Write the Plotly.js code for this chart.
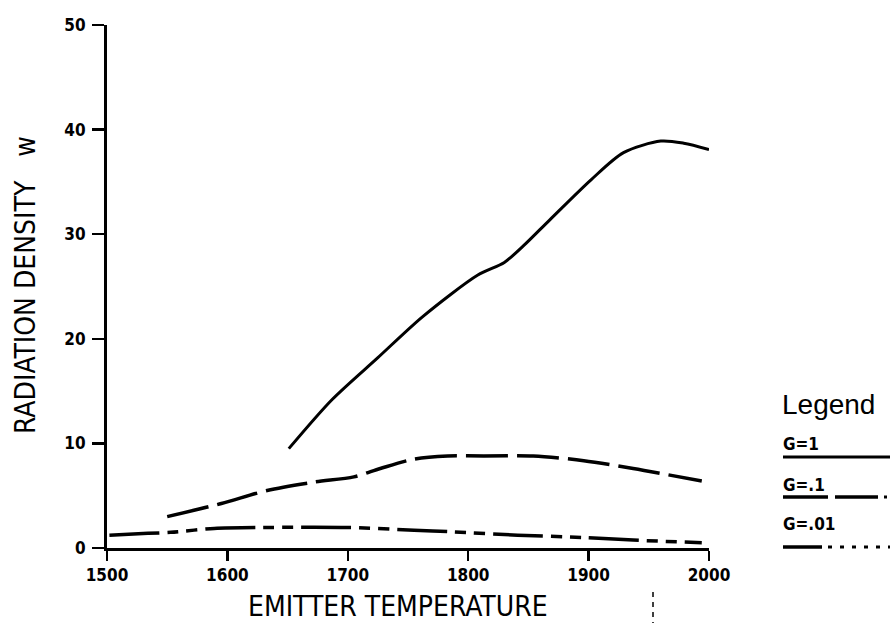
<!DOCTYPE html>
<html>
<head>
<meta charset="utf-8">
<script src="https://cdn.plot.ly/plotly-3.0.1.min.js"></script>
<style>html,body{margin:0;padding:0;background:#fff;}#chart{width:890px;height:625px;}</style>
</head>
<body>
<div id="chart"></div>
<script>
// ---- data ----
const tempG1 = [1651, 1687, 1725, 1762, 1808, 1830, 1846, 1868, 1902, 1929, 1960, 1979, 2000];
const radG1  = [9.5, 14.2, 18.2, 22.1, 26.1, 27.3, 28.9, 31.4, 35.2, 37.8, 38.9, 38.7, 38.1];

const tempG01 = [1550, 1595, 1633, 1672, 1705, 1727, 1755, 1783, 1813, 1854, 1896, 1937, 1994];
const radG01  = [3.0, 4.25, 5.5, 6.3, 6.8, 7.6, 8.5, 8.8, 8.8, 8.8, 8.35, 7.6, 6.4];

const tempG001 = [1502, 1534, 1553, 1589, 1630, 1700, 1755, 1786, 1841, 1896, 1937, 1994];
const radG001  = [1.23, 1.4, 1.5, 1.87, 1.96, 1.96, 1.7, 1.55, 1.23, 1.0, 0.76, 0.5];

const xTickVals = [1500, 1600, 1700, 1800, 1900, 2000];
const yTickVals = [0, 10, 20, 30, 40, 50];
const legendLabels = ["G=1", "G=.1", "G=.01"];
const xTitle = "EMITTER TEMPERATURE";
const yTitle = "RADIATION DENSITY\u00a0\u00a0\u00a0w";

// ---- layout helpers (pixel -> paper) ----
const L = 107, R = 890 - 709, T = 25, B = 625 - 548;
const PW = 890 - L - R, PH = 625 - T - B;
const px = x => (x - L) / PW;
const py = y => (625 - B - y) / PH;

const titleFont = {family: "Liberation Sans Narrow, DejaVu Sans Condensed, Arial Narrow, sans-serif", size: 28, color: "#000"};
const tickFont = {family: "DejaVu Sans Condensed, DejaVu Sans, sans-serif", size: 17, color: "#000", weight: "bold"};
const legFont = {family: "DejaVu Sans Condensed, sans-serif", size: 17, color: "#000", weight: "bold"};

const traces = [
  {x: tempG1, y: radG1, mode: "lines", name: legendLabels[0],
   line: {color: "#000", width: 3, shape: "spline", smoothing: 0.8}},
  {x: tempG01, y: radG01, mode: "lines", name: legendLabels[1],
   line: {color: "#000", width: 3.5, shape: "spline", smoothing: 0.8, dash: "42px,9px"}},
  {x: tempG001, y: radG001, mode: "lines", name: legendLabels[2],
   line: {color: "#000", width: 3.5, shape: "spline", smoothing: 0.8, dash: "50px,8px,11px,8px,11px,8px"}}
];

const shapes = [
  // legend sample lines
  {type: "line", xref: "paper", yref: "paper", x0: px(783), x1: px(890), y0: py(457), y1: py(457), line: {color: "#000", width: 3}},
  {type: "line", xref: "paper", yref: "paper", x0: px(783), x1: px(828), y0: py(497), y1: py(497), line: {color: "#000", width: 3.5}},
  {type: "line", xref: "paper", yref: "paper", x0: px(835), x1: px(878), y0: py(497), y1: py(497), line: {color: "#000", width: 3.5}},
  {type: "line", xref: "paper", yref: "paper", x0: px(884), x1: px(887), y0: py(497), y1: py(497), line: {color: "#000", width: 3}},
  {type: "line", xref: "paper", yref: "paper", x0: px(783), x1: px(822), y0: py(547), y1: py(547), line: {color: "#000", width: 3.5}},
  {type: "line", xref: "paper", yref: "paper", x0: px(828), x1: px(890), y0: py(547), y1: py(547), line: {color: "#000", width: 3, dash: "4px,8px"}},
  // small stray mark below the axis
  {type: "line", xref: "paper", yref: "paper", x0: px(653), x1: px(653), y0: py(592), y1: py(623), line: {color: "#000", width: 1.5, dash: "5px,5px"}}
];

const annotations = [
  {xref: "paper", yref: "paper", x: px(398), y: py(606), text: xTitle, showarrow: false,
   xanchor: "center", yanchor: "middle", font: titleFont},
  {xref: "paper", yref: "paper", x: px(25), y: py(285), text: yTitle, showarrow: false, textangle: -90,
   xanchor: "center", yanchor: "middle", font: titleFont},
  {xref: "paper", yref: "paper", x: px(828), y: py(404), text: "Legend", showarrow: false,
   xanchor: "center", yanchor: "middle", font: {family: "Liberation Sans, Arial, sans-serif", size: 28, color: "#000"}},
  {xref: "paper", yref: "paper", x: px(781), y: py(444), text: legendLabels[0], showarrow: false,
   xanchor: "left", yanchor: "middle", font: legFont},
  {xref: "paper", yref: "paper", x: px(781), y: py(485), text: legendLabels[1], showarrow: false,
   xanchor: "left", yanchor: "middle", font: legFont},
  {xref: "paper", yref: "paper", x: px(781), y: py(524), text: legendLabels[2], showarrow: false,
   xanchor: "left", yanchor: "middle", font: legFont}
];

const layout = {
  width: 890, height: 625,
  margin: {l: L, r: R, t: T, b: B, pad: 0},
  paper_bgcolor: "#fff", plot_bgcolor: "#fff",
  showlegend: false,
  xaxis: {range: [1500, 2000], tickvals: xTickVals, ticktext: xTickVals.map(String),
          showgrid: false, zeroline: false, showline: true, linecolor: "#000", linewidth: 3,
          ticks: "outside", ticklen: 10, tickwidth: 2.5, tickcolor: "#000",
          tickfont: tickFont, ticklabelstandoff: 0, fixedrange: true},
  yaxis: {range: [0, 50], tickvals: yTickVals, ticktext: yTickVals.map(String),
          showgrid: false, zeroline: false, showline: true, linecolor: "#000", linewidth: 3,
          ticks: "outside", ticklen: 12, tickwidth: 2.5, tickcolor: "#000",
          tickfont: tickFont, ticklabelstandoff: 3, fixedrange: true},
  shapes: shapes,
  annotations: annotations
};

Plotly.newPlot("chart", traces, layout, {displayModeBar: false, staticPlot: true});
</script>
</body>
</html>
